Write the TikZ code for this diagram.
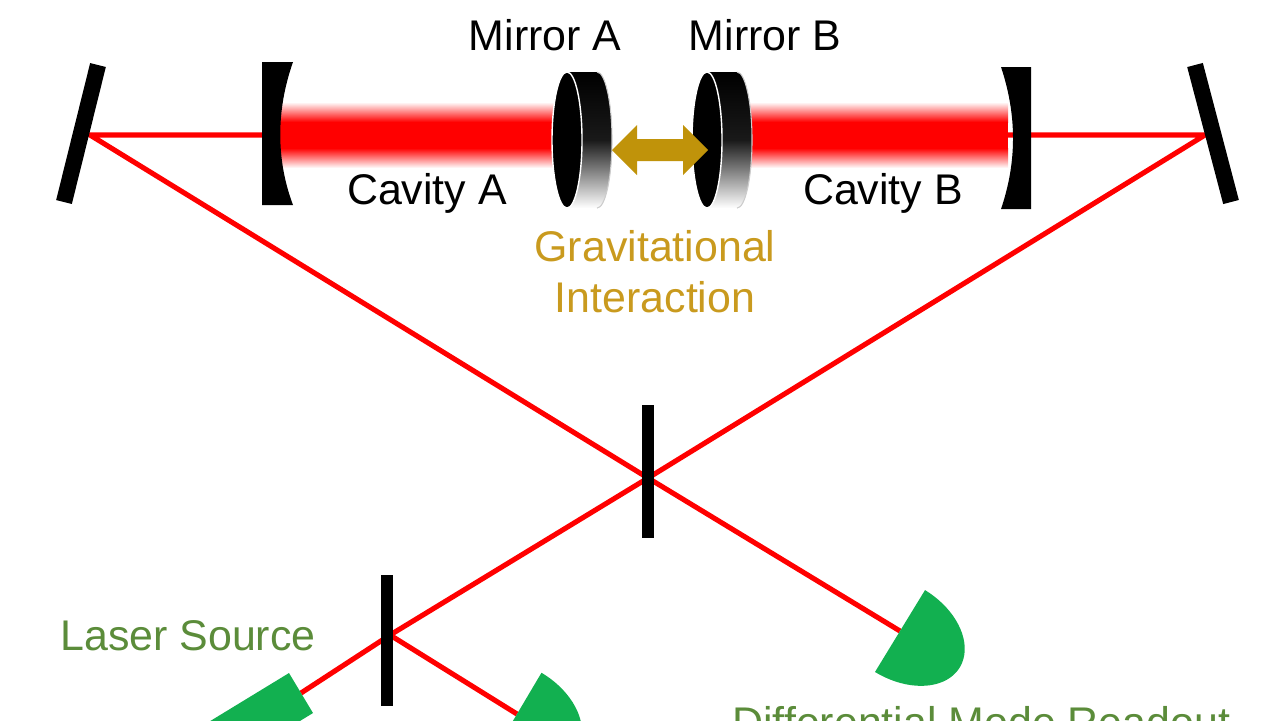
\documentclass[tikz,border=0pt]{standalone}
\usepackage{fontspec}
\setmainfont{Liberation Sans}
\begin{document}
\begin{tikzpicture}[x=0.01cm,y=-0.01cm,
  beam/.style={draw=red,line width=1.45pt},
  bar/.style={draw=black,line width=4.6pt},
  lbl/.style={font=\fontsize{12.2}{14.5}\selectfont,text=black,align=center}]
\definecolor{gold}{HTML}{C0930A}
\definecolor{goldtxt}{HTML}{C99A1E}
\definecolor{greentxt}{HTML}{5B8C3A}
\definecolor{detgreen}{HTML}{12B050}
\useasboundingbox (0,0) rectangle (1280,720);
\clip (0,0) rectangle (1280,720);
% coordinates
\coordinate (FL) at (90,135);
\coordinate (FR) at (1205,135);
\coordinate (CML) at (263,135);
\coordinate (CMR) at (1003,135);
\coordinate (BS1) at (648,478);
\coordinate (BS2) at (390,635);
\coordinate (D1) at (900,631);
\coordinate (D2) at (517,714);
\coordinate (L) at (301,693);
% beams
\draw[beam] (CML) -- (FL) -- (BS1) -- (D1);
\draw[beam] (CMR) -- (FR) -- (BS1) -- (BS2) -- (L);
\draw[beam] (BS2) -- (D2);
% cavity beams
\foreach \a/\b in {280/560, 748/1008}{
  \shade[top color=white,bottom color=red] (\a,102) rectangle (\b,122);
  \fill[red] (\a,122) rectangle (\b,148);
  \shade[top color=red,bottom color=white] (\a,148) rectangle (\b,168);
}
% fold mirrors
\draw[bar] (98,65) -- (64,202);
\draw[bar] (1195,65) -- (1231,202);
% beam splitters
\draw[bar,line width=3.6pt] (648,405) -- (648,538);
\draw[bar,line width=3.6pt] (387,575) -- (387,706);
% cavity mirrors
\fill (262,62) -- (293,62) .. controls (276,110) and (276,160) .. (293,205) -- (262,205) -- cycle;
\fill (1031,67) -- (1001,67) .. controls (1017,115) and (1017,162) .. (1001,209) -- (1031,209) -- cycle;
% test mirrors
\foreach \c in {567,707}{
  \pgfmathsetmacro{\bk}{\c+30}
  \shade[top color=black,bottom color=white,middle color=black!90]
    (\c,72) -- (\bk,72) arc[start angle=90,end angle=-90,x radius=0.15cm,y radius=0.68cm] -- (\c,208) -- cycle;
  \draw[gray!40,line width=0.3pt] (\bk,72) arc[start angle=90,end angle=-90,x radius=0.15cm,y radius=0.68cm];
  \fill[black] (\c,140) ellipse[x radius=0.15cm,y radius=0.68cm];
  \draw[white,line width=0.4pt] (\c,140) ellipse[x radius=0.15cm,y radius=0.68cm];
}
% gravitational arrow
\fill[gold] (612,150) -- (637,125) -- (637,139) -- (683,139) -- (683,125) -- (708,150)
  -- (683,175) -- (683,161) -- (637,161) -- (637,175) -- cycle;
% detectors
\fill[detgreen] plot[domain=0:180,samples=40] ({900-0.521*48*cos(\x)+0.853*70*sin(\x)},{631+0.853*48*cos(\x)+0.521*70*sin(\x)}) -- cycle;
\fill[detgreen] plot[domain=0:180,samples=40] ({517-0.510*48*cos(\x)+0.860*70*sin(\x)},{714+0.860*48*cos(\x)+0.510*70*sin(\x)}) -- cycle;
% laser
\fill[detgreen] (313,713) -- (289,673) -- ++(-128,78) -- ++(24,40) -- cycle;
% labels
\node[lbl] (mA) at (545,35) {Mirror A};
\node[lbl] (mB) at (765,35) {Mirror B};
\node[lbl] (cA) at (427,193) {Cavity A};
\node[lbl] (cB) at (883,193) {Cavity B};
\node[lbl,text=goldtxt] (gi) at (655,272) {Gravitational\\Interaction};
\node[lbl,text=greentxt] (ls) at (188,636) {Laser Source};
\node[lbl,text=greentxt,anchor=west] (dm) at (720,722) {Differential Mode Readout};
\end{tikzpicture}
\end{document}
